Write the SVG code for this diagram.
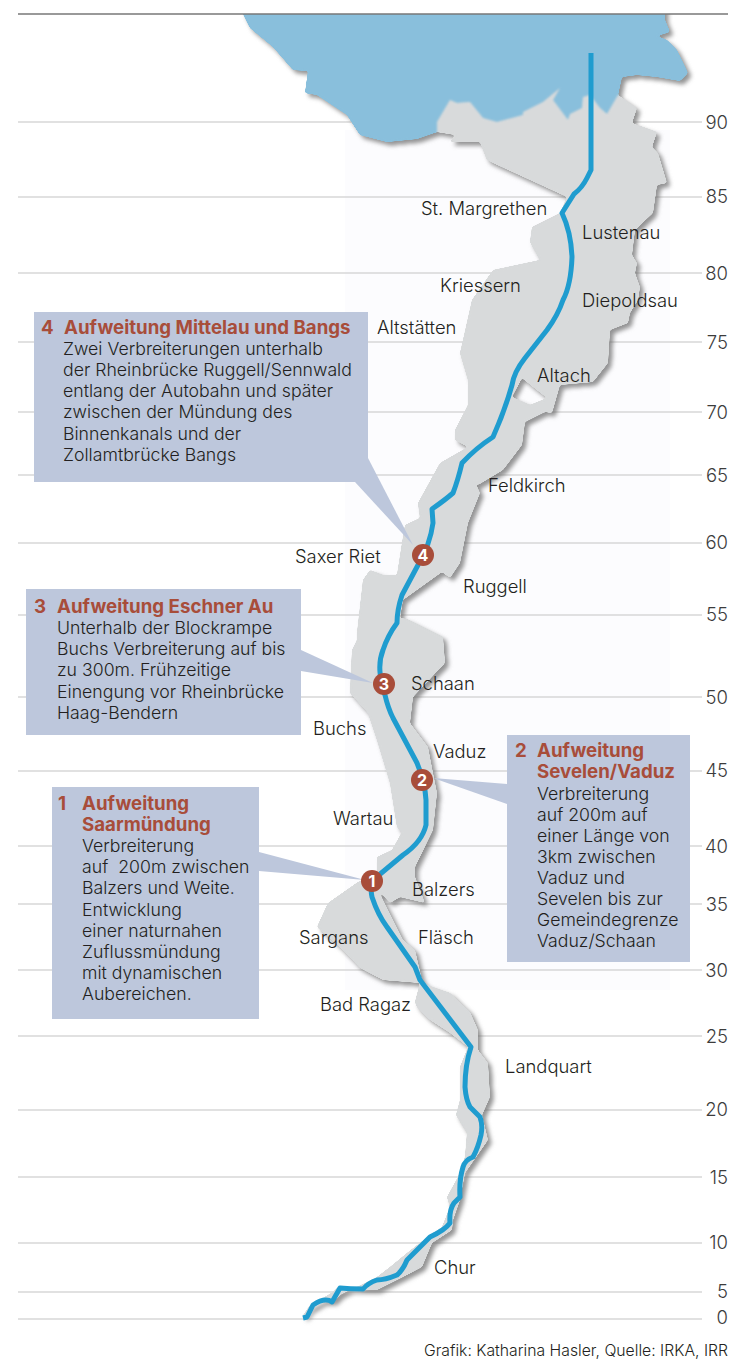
<svg xmlns="http://www.w3.org/2000/svg" width="750" height="1361" viewBox="0 0 750 1361">
<style>
text{font-family:Inter,"Liberation Sans",Arial,sans-serif;fill:#231f20}
.g{stroke:#c4c4c4;stroke-width:1.2;fill:none}
.n{font-size:18.5px;font-weight:300;text-anchor:end;fill:#3c3c3c}
.l{font-size:18.4px;font-weight:300}
.b{font-size:17.7px;font-weight:300}
.h{font-size:18.7px;font-weight:700;fill:#a84d3a}
.box{fill:#bdc7dc}
.dot{fill:#a84d3a}
.dn{font-size:16px;font-weight:700;fill:#fff;text-anchor:middle}
</style>
<defs>
<filter id="round" x="-5%" y="-5%" width="110%" height="110%" color-interpolation-filters="sRGB"><feGaussianBlur stdDeviation="1.3"/><feColorMatrix values="1 0 0 0 0 0 1 0 0 0 0 0 1 0 0 0 0 0 9 -3.6"/></filter>
<filter id="sh" x="-5%" y="-5%" width="110%" height="110%" color-interpolation-filters="sRGB"><feDropShadow dx="3.5" dy="3.5" stdDeviation="2" flood-color="#666" flood-opacity=".7"/></filter>
<clipPath id="top"><rect x="0" y="14" width="750" height="1347"/></clipPath>
</defs>
<rect width="750" height="1361" fill="#fff"/>
<rect x="345" y="130" width="325" height="860" fill="#fcfcfe"/>
<g id="grid">
<path class="g" d="M18 122H702M18 197H702M18 273H702M18 342H702M18 412H702M18 475H702M18 543H702M18 615H702M18 697H702M18 771H702M18 846H702M18 904H702M18 970H702M18 1036H702M18 1110H702M18 1177H702M18 1243H702M18 1292H702M18 1319H702"/>
<text class="n" x="728" y="129">90</text><text class="n" x="728" y="203">85</text><text class="n" x="728" y="280">80</text><text class="n" x="728" y="349">75</text><text class="n" x="728" y="419">70</text><text class="n" x="728" y="482">65</text><text class="n" x="728" y="549">60</text><text class="n" x="728" y="621">55</text><text class="n" x="728" y="704">50</text><text class="n" x="728" y="777">45</text><text class="n" x="728" y="853">40</text><text class="n" x="728" y="911">35</text><text class="n" x="728" y="977">30</text><text class="n" x="728" y="1043">25</text><text class="n" x="728" y="1116">20</text><text class="n" x="728" y="1184">15</text><text class="n" x="728" y="1249">10</text><text class="n" x="728" y="1298">5</text><text class="n" x="728" y="1324">0</text>
</g>
<g id="land" clip-path="url(#top)"><g filter="url(#sh)"><g filter="url(#round)">
<path fill="#89bfdc" d="M243 6L243 14L250 28L273 47L293 70L308 71L305 93L317 95L347 115L360 135L387 142L417 139L437 132L437 122L450 100L457 103L470 102L483 118L497 122L523 115L523 112L543 102L560 88L553 100L568 120L570 114L582 108L583 97L590 95L600 108L607 114L618 95L622 77L637 75L657 77L680 81L688 73L677 50L667 40L657 36L670 32L665 20L665 6Z"/>
<path fill="#d8dadb" fill-rule="evenodd" d="M437 132L437 122L450 100L457 103L470 102L483 118L497 122L523 115L523 112L543 102L560 88L553 100L568 120L570 114L582 108L583 97L590 95L600 108L607 114L618 95L637 108L632 123L657 132L652 147L658 153L667 183L657 185L653 213L635 230L632 255L637 263L635 273L640 287L638 300L630 313L628 323L610 330L608 363L593 382L560 385L552 413L545 412L525 422L522 445L503 470L478 485L475 482L480 493L468 523L460 563L450 578L442 572L403 600L400 618L407 619L443 637L445 663L413 697L410 723L428 747L432 768L437 793L433 830L415 867L415 877L425 903L400 897L390 903L378 890L403 940L415 950L422 980L427 985L450 993L470 1012L478 1030L478 1050L488 1063L490 1097L482 1115L488 1140L472 1163L465 1173L460 1200L453 1220L452 1230L432 1243L422 1267L403 1277L377 1290L350 1290L340 1295L333 1302L323 1302L310 1310L305 1318L302 1317L310 1305L323 1298L333 1292L338 1287L357 1287L377 1277L390 1267L407 1253L430 1235L442 1227L450 1207L447 1197L458 1177L465 1157L467 1133L456 1115L460 1100L460 1067L468 1047L450 1033L430 1020L417 1007L415 1002L420 983L383 980L360 968L343 950L317 927L328 903L358 882L377 873L377 857L392 850L402 832L397 827L390 783L377 740L368 713L350 693L352 650L357 640L357 633L363 580L370 570L383 575L397 575L402 543L405 525L420 518L418 503L440 463L468 447L455 440L455 430L468 405L468 380L460 353L463 340L472 300L493 270L540 260L530 242L532 227L560 213L567 197L530 180L493 163L487 160L480 142L450 142L455 135ZM522 378L512 397L530 405L547 398L533 387Z"/>
</g></g></g>
<path id="topline" d="M18 14H728" stroke="#777" stroke-width="1.4"/>
<g id="connectors">
<path fill="none" stroke="#1f9ccf" stroke-width="5" stroke-linejoin="round" d="M591 53V170L587 178Q582 188 574 194L562 213Q571 232 572 257Q571 285 563 300Q558 315 547 330L525 358Q514 372 512 385Q505 410 493 437Q476 448 462 463Q458 480 453 493Q445 500 432 509L433 523Q430 545 418 565L402 595Q397 610 397 623Q388 635 383 650Q379 660 380 672Q381 685 385 695Q388 708 393 718L417 763Q425 782 426 800V825Q422 842 403 855L373 880Q370 888 372 897Q378 915 387 927L415 967L420 980L471 1047Q465 1065 465 1087Q466 1100 470 1107L480 1117Q483 1125 481 1135Q478 1148 473 1157Q465 1160 463 1167Q459 1180 460 1197L454 1203Q449 1210 450 1223Q445 1230 430 1237L407 1260Q403 1270 397 1275Q385 1280 377 1280Q368 1283 363 1289Q350 1289 340 1288L332 1302Q325 1297 313 1305L307 1317L303 1318"/>
<path class="box" d="M368 458L413 545L355 482Z"/>
<path class="box" d="M301 650L373 683L301 671Z"/>
<path class="box" d="M507 784L433 778L507 804Z"/>
<path class="box" d="M259 852L365 880L259 871Z"/>
</g>
<g id="labels">
<text class="l" x="421" y="215">St. Margrethen</text><text class="l" x="582" y="239">Lustenau</text><text class="l" x="440" y="292">Kriessern</text><text class="l" x="582" y="307">Diepoldsau</text><text class="l" x="377" y="334">Altstätten</text><text class="l" x="537" y="382">Altach</text><text class="l" x="488" y="492">Feldkirch</text><text class="l" x="295" y="563">Saxer Riet</text><text class="l" x="463" y="593">Ruggell</text><text class="l" x="411" y="690">Schaan</text><text class="l" x="313" y="735">Buchs</text><text class="l" x="433" y="758">Vaduz</text><text class="l" x="333" y="825">Wartau</text><text class="l" x="412" y="896">Balzers</text><text class="l" x="299" y="944">Sargans</text><text class="l" x="418" y="944">Fläsch</text><text class="l" x="320" y="1011">Bad Ragaz</text><text class="l" x="505" y="1073">Landquart</text><text class="l" x="434" y="1274">Chur</text>
<text x="728" y="1356" text-anchor="end" font-size="15.75" font-weight="300">Grafik: Katharina Hasler, Quelle: IRKA, IRR</text>
</g>
<g id="box4"><rect class="box" x="34" y="312" width="334" height="170"/>
<text class="h" x="41" y="334">4</text><text class="h" x="64" y="334">Aufweitung Mittelau und Bangs</text>
<text class="b" x="63" y="355">Zwei Verbreiterungen unterhalb</text><text class="b" x="63" y="376">der Rheinbrücke Ruggell/Sennwald</text><text class="b" x="63" y="397">entlang der Autobahn und später</text><text class="b" x="63" y="418">zwischen der Mündung des</text><text class="b" x="63" y="440">Binnenkanals und der</text><text class="b" x="63" y="461">Zollamtbrücke Bangs</text></g>
<g id="box3"><rect class="box" x="26" y="589" width="275" height="146"/>
<text class="h" x="34" y="613">3</text><text class="h" x="57" y="613">Aufweitung Eschner Au</text>
<text class="b" x="57" y="634">Unterhalb der Blockrampe</text><text class="b" x="57" y="655">Buchs Verbreiterung auf bis</text><text class="b" x="57" y="676">zu 300m. Frühzeitige</text><text class="b" x="57" y="698">Einengung vor Rheinbrücke</text><text class="b" x="57" y="719">Haag-Bendern</text></g>
<g id="box2"><rect class="box" x="507" y="735" width="183" height="227"/>
<text class="h" x="515" y="757">2</text><text class="h" x="537" y="757">Aufweitung</text><text class="h" x="537" y="778">Sevelen/Vaduz</text>
<text class="b" x="537" y="800">Verbreiterung</text><text class="b" x="537" y="821">auf 200m auf</text><text class="b" x="537" y="842">einer Länge von</text><text class="b" x="537" y="863">3km zwischen</text><text class="b" x="537" y="884">Vaduz und</text><text class="b" x="537" y="905">Sevelen bis zur</text><text class="b" x="537" y="926">Gemeindegrenze</text><text class="b" x="537" y="947">Vaduz/Schaan</text></g>
<g id="box1"><rect class="box" x="52" y="787" width="207" height="232"/>
<text class="h" x="58" y="810">1</text><text class="h" x="82" y="810">Aufweitung</text><text class="h" x="82" y="831">Saarmündung</text>
<text class="b" x="82" y="852">Verbreiterung</text><text class="b" x="82" y="873" xml:space="preserve">auf  200m zwischen</text><text class="b" x="82" y="894">Balzers und Weite.</text><text class="b" x="82" y="916">Entwicklung</text><text class="b" x="82" y="937">einer naturnahen</text><text class="b" x="82" y="958">Zuflussmündung</text><text class="b" x="82" y="979">mit dynamischen</text><text class="b" x="82" y="1000">Aubereichen.</text></g>
<g id="m4"><circle class="dot" cx="423" cy="555" r="11"/><text class="dn" x="423" y="561">4</text></g>
<g id="m3"><circle class="dot" cx="384" cy="684" r="11"/><text class="dn" x="384" y="690">3</text></g>
<g id="m2"><circle class="dot" cx="422" cy="780" r="11"/><text class="dn" x="422" y="786">2</text></g>
<g id="m1"><circle class="dot" cx="372" cy="881" r="11"/><text class="dn" x="372" y="887">1</text></g>
</svg>
